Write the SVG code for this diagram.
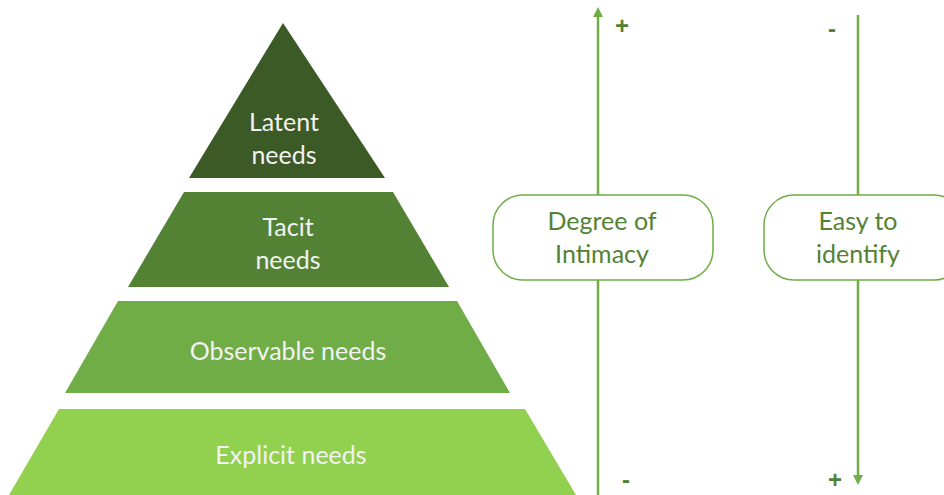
<svg xmlns="http://www.w3.org/2000/svg" width="944" height="495" viewBox="0 0 944 495">
  <defs>
    <marker id="head" viewBox="0 0 10 10" refX="5" refY="5" markerWidth="4" markerHeight="4" orient="auto-start-reverse" markerUnits="strokeWidth">
      <path d="M0,0 L10,5 L0,10 z" fill="#70AD47"/>
    </marker>
  </defs>
  <style>
    .tier-label { font-family: Lato, "Open Sans", sans-serif; font-size: 25px; fill: #F2F2F2; text-anchor: middle; }
    .axis { stroke: #70AD47; stroke-width: 2.5; fill: none; }
    .box { fill: #FFFFFF; stroke: #70AD47; stroke-width: 1.5; }
    .box-label { font-family: Lato, "Open Sans", sans-serif; font-size: 25px; fill: #548235; text-anchor: middle; }
    .sign { font-family: "Liberation Sans", Arial, sans-serif; font-weight: bold; font-size: 24px; fill: #548235; text-anchor: middle; }
  </style>
  <rect width="944" height="495" fill="#FFFFFF"/>

  <!-- pyramid tiers, top to bottom -->
  <g id="latent">
    <polygon points="283,23 385,178 189,178" fill="#3B5A26"/>
    <text class="tier-label" x="284" y="131">Latent</text>
    <text class="tier-label" x="284" y="164">needs</text>
  </g>
  <g id="tacit">
    <polygon points="184,192 393,192 449,287 128,287" fill="#548235"/>
    <text class="tier-label" x="288" y="236">Tacit</text>
    <text class="tier-label" x="288" y="269">needs</text>
  </g>
  <g id="observable">
    <polygon points="118,301 457,301 510,393 65,393" fill="#70AD47"/>
    <text class="tier-label" x="288" y="360">Observable needs</text>
  </g>
  <g id="explicit">
    <polygon points="59,409 525,409 576,495 9,495" fill="#92D050"/>
    <text class="tier-label" x="291" y="464">Explicit needs</text>
  </g>

  <!-- vertical scales -->
  <g id="connectors">
    <line class="axis" x1="598" y1="495" x2="598" y2="12" marker-end="url(#head)"/>
    <line class="axis" x1="858" y1="15" x2="858" y2="480" marker-end="url(#head)"/>
  </g>

  <g id="intimacy">
    <rect class="box" x="493" y="195" width="220" height="85" rx="30" ry="30"/>
    <text class="box-label" x="602" y="230">Degree of</text>
    <text class="box-label" x="602" y="263">Intimacy</text>
  </g>
  <g id="identify">
    <rect class="box" x="764" y="195" width="200" height="85" rx="30" ry="30"/>
    <text class="box-label" x="858" y="230">Easy to</text>
    <text class="box-label" x="858" y="263">identify</text>
  </g>

  <g id="signs">
    <text class="sign" x="622" y="34">+</text>
    <text class="sign" x="626" y="488">-</text>
    <text class="sign" x="832" y="37">-</text>
    <text class="sign" x="835" y="488">+</text>
  </g>
</svg>
